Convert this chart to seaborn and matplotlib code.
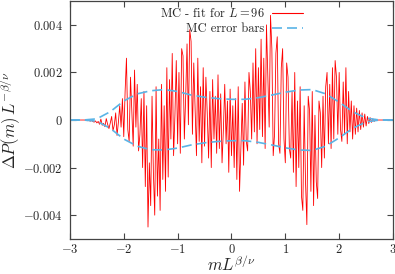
import numpy as np
import pandas as pd
import matplotlib
matplotlib.use("Agg")
import matplotlib.pyplot as plt
from matplotlib.lines import Line2D
import seaborn as sns

# Diferencia MC - ajuste (en unidades de 1e-4), paso 0.025 en m L^{beta/nu}
dp_e4 = [
    0, 0, 0, 0, 0, 0, 0, 0, 0, 0,
    0, 0, -0.2, -0.3, 0.1, -0.5, -0.2, -0.6, -0.9, -0.4,
    -1.2, -0.6, -1.8, 0.4, -2.2, -1.4, -2.8, 0.6, -1.8, -3.6,
    -1.2, 1.5, -4.5, -2, 3, -6.5, -1, 6, -3, 9,
    -7, 12, 26, -4, -9, 18, 4, -11, 21, -3,
    15, -13, -6, 9, -20, 12, -28, 6, -45, -18,
    -36, 10, -22, -40, 14, -32, -8, -38, 15, -25,
    6, -30, 22, -24, 17, -8, 28, -15, 2, 25,
    -10, 20, -14, 30, 27, -8, 10, 32, -2, 38,
    33, -6, 24, 5, -15, 26, -9, 14, -18, 22,
    -11, 18, 3, -16, 12, -20, 17, -8, 10, -14,
    19, -12, 11, -18, -4, 15, -10, 8, -22, 13,
    -15, 6, -20, 9, -25, 14, -30, -12, 7, -19,
    16, -9, -13, 20, 12, -8, 24, -5, 30, -10,
    22, -4, 34, -7, 26, -12, 40, 18, -3, 44,
    30, -15, -6, 28, 35, -10, -14, 22, 30, -8,
    -18, 24, 18, -12, -16, 12, -22, 20, -28, 8,
    -20, 14, -32, -38, 6, -26, -44, 10, 4, -30,
    12, -36, 2, -26, -33, 8, 3, -20, 10, -16,
    14, 20, -10, 15, -12, 22, -8, 25, 18, -6,
    20, -4, -9, 16, -6, 22, -10, 12, -5, 8,
    -8, 6, -6, 5, -5, 4, -4, 3, -3, 2.5,
    -2.5, 1.5, -1.5, 1, -1, 0.5, -0.6, 0.3, -0.2, 0,
    0, 0, 0, 0, 0, 0, 0, 0, 0, 0, 0,
]
x_fit = np.linspace(-3, 3, len(dp_e4))

# Barras de error MC (unidades de 1e-4)
x_err = [-3, -2.75, -2.5, -2.25, -2, -1.75, -1.5, -1.25, -1, -0.75, -0.5, -0.25,
         0, 0.25, 0.5, 0.75, 1, 1.25, 1.5, 1.75, 2, 2.25, 2.5, 2.75, 3]
err_up_e4 = [0, 0, 0.5, 3.5, 8, 11, 12.3, 12.8, 12, 10.5, 9.6, 9,
             8.7, 8.7, 9.4, 10.5, 11.7, 12.6, 12.8, 11, 7.5, 3.5, 0.8, 0, 0]
err_lo_e4 = [0, 0, -0.5, -3.5, -8, -11, -12.5, -12.6, -11.8, -10.5, -9.6, -9,
             -8.7, -8.7, -9.4, -10.5, -11.7, -12.6, -12.8, -11, -7.5, -3.5, -0.8, 0, 0]

xticks = [-3, -2, -1, 0, 1, 2, 3]
xtick_labels = [r"$-3$", r"$-2$", r"$-1$", r"$0$", r"$1$", r"$2$", r"$3$"]
yticks = [-0.004, -0.002, 0, 0.002, 0.004]
ytick_labels = [r"$-0.004$", r"$-0.002$", r"$0$", r"$0.002$", r"$0.004$"]

sns.set_style("ticks")
plt.rcParams["font.family"] = "serif"
plt.rcParams["font.serif"] = ["cmr10", "DejaVu Serif"]
plt.rcParams["mathtext.fontset"] = "cm"
plt.rcParams["axes.unicode_minus"] = False
plt.rcParams["axes.formatter.use_mathtext"] = True

df_fit = pd.DataFrame({"x": x_fit, "y": np.array(dp_e4) * 1e-4})
df_err = pd.DataFrame({"x": x_err,
                       "up": np.array(err_up_e4) * 1e-4,
                       "lo": np.array(err_lo_e4) * 1e-4})

fig = plt.figure(figsize=(3.95, 2.74), dpi=100)
ax = fig.add_axes([0.177, 0.128, 0.818, 0.868])

red = "#ff0000"
blue = "#5ab4e6"
sns.lineplot(data=df_fit, x="x", y="y", ax=ax, color=red, lw=0.6,
             estimator=None, sort=False)
sns.lineplot(data=df_err, x="x", y="up", ax=ax, color=blue, lw=1.2,
             estimator=None)
sns.lineplot(data=df_err, x="x", y="lo", ax=ax, color=blue, lw=1.2,
             estimator=None)
for ln in ax.lines[1:]:
    ln.set_dashes([6, 3])

ax.set_xlim(-3, 3)
ax.set_ylim(-0.005, 0.005)
ax.set_xticks(xticks)
ax.set_xticklabels(xtick_labels)
ax.set_yticks(yticks)
ax.set_yticklabels(ytick_labels)
ax.tick_params(direction="in", length=4, width=0.8, labelsize=9,
               top=True, right=True, color="#444444")
ax.tick_params(axis="x", pad=3)
ax.tick_params(axis="y", pad=5)
for sp in ax.spines.values():
    sp.set_color("#444444")
    sp.set_linewidth(0.9)

ax.set_xlabel(r"$mL^{\beta/\nu}$", fontsize=12, labelpad=-1)
ax.set_ylabel(r"$\Delta P(m)\,L^{-\beta/\nu}$", fontsize=12, labelpad=0)

handles = [Line2D([], [], color=red, lw=0.8),
           Line2D([], [], color=blue, lw=1.2, dashes=[6, 3])]
labels = [r"MC - fit for $L = 96$", "MC error bars"]
ax.legend(handles, labels, loc="upper right", bbox_to_anchor=(0.73, 0.985),
          frameon=False, markerfirst=False, fontsize=9, handlelength=2.5,
          labelspacing=0.25, handletextpad=0.6, borderaxespad=0.1,
          borderpad=0.1)

fig.savefig("out.png", dpi=100)
